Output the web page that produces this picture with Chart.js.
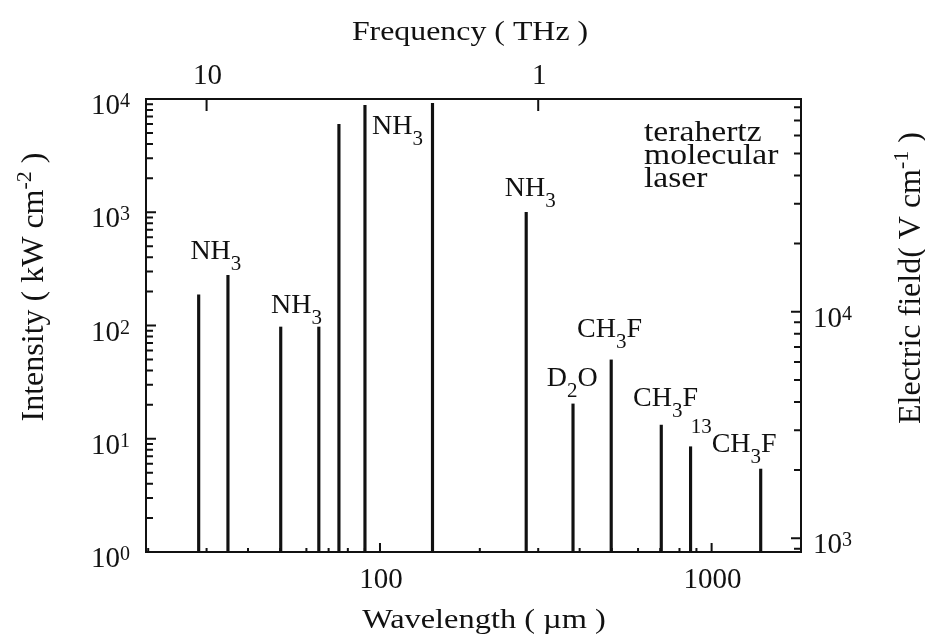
<!DOCTYPE html>
<html>
<head>
<meta charset="utf-8">
<title>Terahertz molecular laser lines</title>
<script src="https://cdn.jsdelivr.net/npm/chart.js@4.4.1/dist/chart.umd.min.js"></script>
<style>
  html, body { margin: 0; padding: 0; background: #fff; }
  #wrap { width: 925px; height: 634px; }
</style>
</head>
<body>
<div id="wrap"><canvas id="chart" width="925" height="634"></canvas></div>
<script>
// Laser lines: wavelength (um) and peak intensity (kW cm^-2)
const wavelengths = [28.4, 34.8, 50.2, 65.4, 75.2, 90.1, 144, 276, 382, 498, 705, 864, 1406];
const intensities = [187, 277, 97, 97, 5970, 8790, 9160, 1000, 20.3, 49.7, 13.2, 8.5, 5.4];

// Gas names, anchored in data units (centre wavelength, baseline intensity)
const gasNames       = ["NH_{3}", "NH_{3}", "NH_{3}", "NH_{3}", "D_{2}O", "CH_{3}F", "CH_{3}F", "^{13}CH_{3}F"];
const gasWavelengths = [32, 56, 113, 284, 380, 492, 726, 1165];
const gasIntensities = [390, 130, 4900, 1380, 29, 79, 19.5, 7.6];

// Axis tick labels
const intensityTicks  = [1, 10, 100, 1000, 10000];
const fieldTicks      = [1000, 10000];
const wavelengthTicks = [100, 1000];
const frequencyTicks  = [10, 1];

const noteLines = ["terahertz", "molecular", "laser"];

const INK  = "#111";
const FONT = '"Liberation Serif", "Times New Roman", serif';

// axis ranges
const LAMBDA_MIN = 19.7, LAMBDA_MAX = 1860;   // um
const I_MIN = 1, I_MAX = 10000;               // kW cm^-2
const E_PER_ROOT_I = 870;                     // V cm^-1 per sqrt(kW cm^-2)


// ------------------------------------------------------------
//  text with sub/superscripts:  "NH_{3}", "10^{4}"
// ------------------------------------------------------------
function parseRich(str) {
  const parts = [];
  const re = /([_^])\{([^}]*)\}|([^_^]+)/g;
  let m;
  while ((m = re.exec(str))) {
    if (m[3]) parts.push({ t: m[3], kind: "n" });
    else parts.push({ t: m[2], kind: m[1] === "_" ? "sub" : "sup" });
  }
  return parts;
}

function drawRich(ctx, str, x, y, o) {
  const parts = parseRich(str);
  const small = o.small || Math.round(o.size * 0.72);
  const fontOf = p => (p.kind === "n" ? o.size : small) + "px " + FONT;
  let w = 0;
  parts.forEach(p => { ctx.font = fontOf(p); p.w = ctx.measureText(p.t).width; w += p.w; });

  ctx.save();
  ctx.translate(x, y);
  if (o.rotate) ctx.rotate(o.rotate);
  ctx.scale(o.sx || 1, 1);
  ctx.fillStyle = INK;
  ctx.textAlign = "left";
  ctx.textBaseline = "alphabetic";
  let cx = o.align === "center" ? -w / 2 : o.align === "right" ? -w : 0;
  parts.forEach(p => {
    ctx.font = fontOf(p);
    const dy = p.kind === "sub" ? (o.drop || 0) : p.kind === "sup" ? -(o.rise || 0) : 0;
    ctx.fillText(p.t, cx, dy);
    cx += p.w;
  });
  ctx.restore();
}

// 1..9 x 10^n steps inside [min, max]
function logSteps(min, max) {
  const out = [];
  for (let e = Math.floor(Math.log10(min)); e <= Math.ceil(Math.log10(max)); e++) {
    for (let k = 1; k <= 9; k++) {
      const v = k * Math.pow(10, e);
      if (v >= min * 0.9999 && v <= max * 1.0001) out.push({ v: v, major: k === 1 });
    }
  }
  return out;
}

function expLabel(v) {
  return "10^{" + Math.round(Math.log10(v)) + "}";
}


// ------------------------------------------------------------
//  frame, inward ticks, tick labels, titles, gas names
// ------------------------------------------------------------
const framePlugin = {
  id: "frame",
  afterDatasetsDraw(chart) {
    const ctx = chart.ctx;
    const a = chart.chartArea;
    const x = chart.scales.x, y = chart.scales.y;
    const x2 = chart.scales.x2, y2 = chart.scales.y2;

    ctx.save();
    ctx.strokeStyle = INK;
    ctx.lineWidth = 2;
    ctx.strokeRect(a.left, a.top, a.right - a.left, a.bottom - a.top);

    ctx.beginPath();
    // intensity (left)
    logSteps(y.min, y.max).forEach(t => {
      const py = y.getPixelForValue(t.v);
      ctx.moveTo(a.left, py);
      ctx.lineTo(a.left + (t.major ? 10 : 7), py);
    });
    // electric field (right)
    logSteps(y2.min, y2.max).forEach(t => {
      const py = y2.getPixelForValue(t.v);
      ctx.moveTo(a.right, py);
      ctx.lineTo(a.right - (t.major ? 10 : 7), py);
    });
    // wavelength (bottom)
    logSteps(x.min, x.max).forEach(t => {
      const px = x.getPixelForValue(t.v);
      ctx.moveTo(px, a.bottom);
      ctx.lineTo(px, a.bottom - (t.major ? 9 : 4));
    });
    // frequency (top), decades only
    frequencyTicks.forEach(f => {
      const px = x2.getPixelForValue(f);
      ctx.moveTo(px, a.top);
      ctx.lineTo(px, a.top + 12);
    });
    ctx.stroke();
    ctx.restore();

    // tick labels
    intensityTicks.forEach(v => {
      drawRich(ctx, expLabel(v), a.left - 16, y.getPixelForValue(v) + 15,
        { size: 29, small: 20, rise: 7, align: "right" });
    });
    fieldTicks.forEach(v => {
      drawRich(ctx, expLabel(v), a.right + 12, y2.getPixelForValue(v) + 15,
        { size: 29, small: 20, rise: 7, align: "left" });
    });
    wavelengthTicks.forEach(v => {
      drawRich(ctx, String(v), x.getPixelForValue(v) + 1, a.bottom + 36,
        { size: 29, align: "center" });
    });
    frequencyTicks.forEach(f => {
      drawRich(ctx, String(f), x2.getPixelForValue(f) + 1, a.top - 15,
        { size: 29, align: "center" });
    });

    // axis titles
    drawRich(ctx, "Frequency ( THz )", 470, 40, { size: 27, sx: 1.18, align: "center" });
    drawRich(ctx, "Wavelength ( \u00b5m )", 484, 628, { size: 27, sx: 1.2, align: "center" });
    drawRich(ctx, "Intensity ( kW cm^{-2} )", 43, 287,
      { size: 32, small: 22, rise: 12, align: "center", rotate: -Math.PI / 2 });
    drawRich(ctx, "Electric field( V cm^{-1} )", 920, 278,
      { size: 32, small: 22, rise: 12, align: "center", rotate: -Math.PI / 2 });

    // gas names
    gasNames.forEach((name, i) => {
      drawRich(ctx, name, x.getPixelForValue(gasWavelengths[i]), y.getPixelForValue(gasIntensities[i]),
        { size: 28, small: 21, drop: 11, rise: 19, align: "center" });
    });

    // note in the upper right corner
    noteLines.forEach((line, i) => {
      drawRich(ctx, line, a.right - 157, a.top + 42 + i * 23, { size: 29, sx: 1.16, align: "left" });
    });
  }
};


// ------------------------------------------------------------
//  CHART
// ------------------------------------------------------------
const lineData = wavelengths.map((w, i) => ({ x: w, y: [I_MIN, intensities[i]] }));

new Chart(document.getElementById("chart").getContext("2d"), {
  type: "bar",
  data: {
    datasets: [{
      data: lineData,
      backgroundColor: INK,
      borderWidth: 0,
      barThickness: 2.5
    }]
  },
  options: {
    responsive: false,
    animation: false,
    layout: { padding: { left: 146, top: 99, right: 124, bottom: 82 } },
    plugins: { legend: { display: false }, tooltip: { enabled: false } },
    scales: {
      x: {
        type: "logarithmic", min: LAMBDA_MIN, max: LAMBDA_MAX,
        bounds: "data", offset: false, display: false, grid: { offset: false }
      },
      x2: {
        type: "logarithmic", position: "top", reverse: true,
        min: 300 / LAMBDA_MAX, max: 300 / LAMBDA_MIN,
        bounds: "data", offset: false, display: false
      },
      y: {
        type: "logarithmic", min: I_MIN, max: I_MAX,
        bounds: "data", display: false
      },
      y2: {
        type: "logarithmic", position: "right",
        min: E_PER_ROOT_I * Math.sqrt(I_MIN), max: E_PER_ROOT_I * Math.sqrt(I_MAX),
        bounds: "data", display: false
      }
    }
  },
  plugins: [framePlugin]
});
</script>
</body>
</html>
